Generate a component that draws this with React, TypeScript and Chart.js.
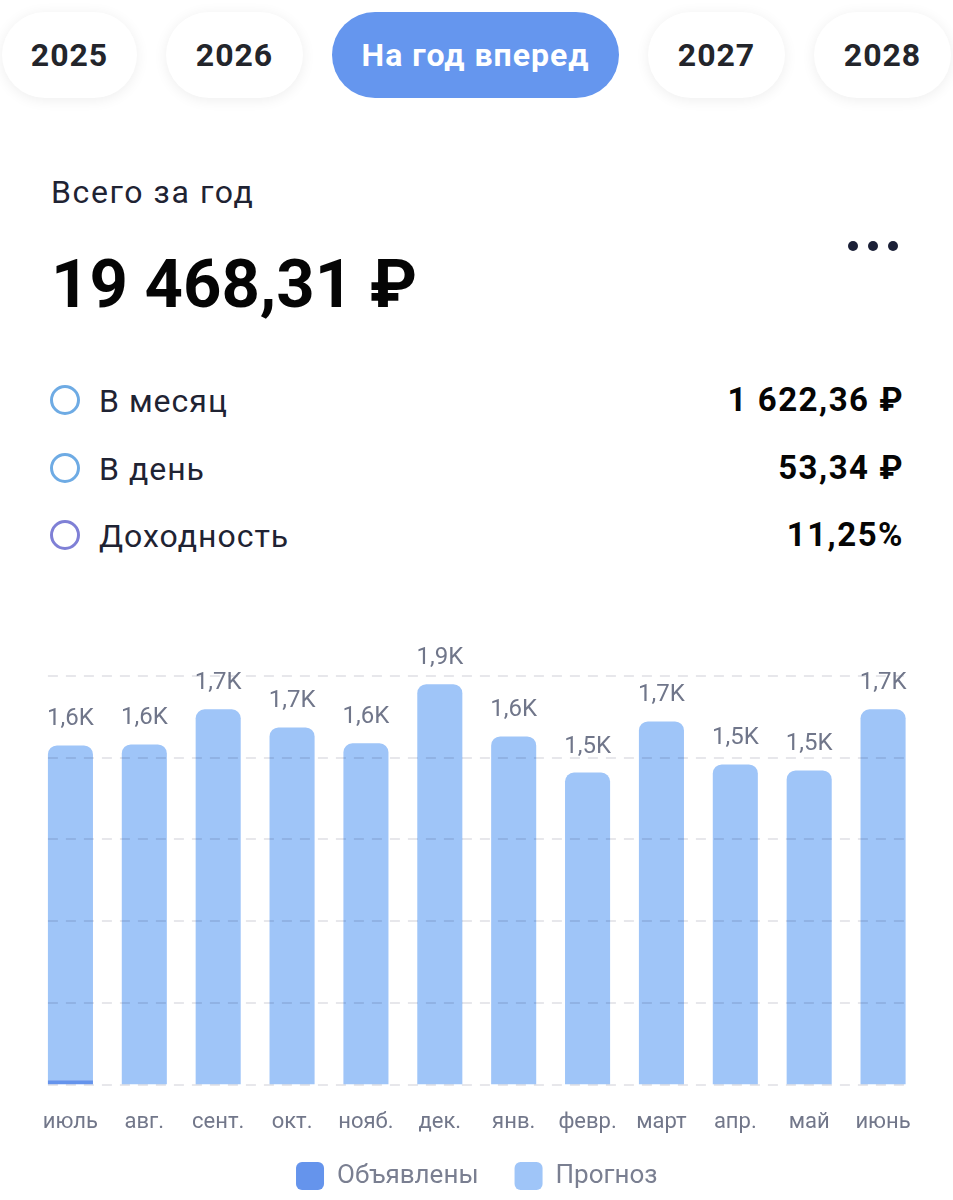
import React, { useEffect, useRef } from "react";
import { Chart, registerables } from "chart.js";

Chart.register(...registerables);

const tabs = ["2025", "2026", "На год вперед", "2027", "2028"];
const activeTab = "На год вперед";
const tabWidths = [135, 137, 287, 137, 137];

const totalTitle = "Всего за год";
const totalValue = "19 468,31 ₽";

const statLabels = ["В месяц", "В день", "Доходность"];
const statValues = ["1 622,36 ₽", "53,34 ₽", "11,25%"];
const statColors = ["#6EABE4", "#6EABE4", "#7F80D6"];

const months = ["июль", "авг.", "сент.", "окт.", "нояб.", "дек.", "янв.", "февр.", "март", "апр.", "май", "июнь"];
const declared = [20, 0, 0, 0, 0, 0, 0, 0, 0, 0, 0, 0];
const forecast = [1557, 1582, 1745, 1661, 1587, 1862, 1619, 1451, 1689, 1489, 1461, 1745];
const gridValues = [0, 380, 760, 1140, 1520, 1900];

const FONT = "Roboto, 'Noto Sans', sans-serif";
const LEGEND_SHIFT = 27;

function formatK(v: number) {
  return (v / 1000).toFixed(1).replace(".", ",") + "K";
}

const overlayPlugin = {
  id: "overlay",
  beforeLayout(chart: any) {
    const lg = chart.legend;
    if (lg && !lg._compact) {
      const orig = lg.fit;
      lg.fit = function () {
        orig.call(this);
        this.height -= LEGEND_SHIFT;
      };
      lg._compact = true;
    }
  },
  afterLayout(chart: any) {
    const lg = chart.legend;
    if (lg) {
      lg.top -= LEGEND_SHIFT;
    }
  },
  afterDatasetsDraw(chart: any) {
    const ctx = chart.ctx;
    const y = chart.scales.y;
    const bars = chart.getDatasetMeta(1).data;
    const first = bars[0];
    const last = bars[bars.length - 1];
    const left = first.x - first.width / 2;
    const right = last.x + last.width / 2;
    ctx.save();
    ctx.strokeStyle = "rgba(20,20,60,0.10)";
    ctx.lineWidth = 2;
    ctx.setLineDash([10, 8]);
    gridValues.forEach((v) => {
      const py = Math.round(y.getPixelForValue(v));
      ctx.beginPath();
      ctx.moveTo(left, py);
      ctx.lineTo(right, py);
      ctx.stroke();
    });
    ctx.setLineDash([]);
    ctx.fillStyle = "#70768A";
    ctx.font = `24px ${FONT}`;
    ctx.textAlign = "center";
    ctx.textBaseline = "middle";
    bars.forEach((bar: any, i: number) => {
      const total = declared[i] + forecast[i];
      ctx.fillText(formatK(total), bar.x, bar.y - 26);
    });
    ctx.restore();
  },
};

function BarChart() {
  const ref = useRef<HTMLCanvasElement | null>(null);
  useEffect(() => {
    if (!ref.current) return;
    const chart = new Chart(ref.current, {
      type: "bar",
      data: {
        labels: months,
        datasets: [
          {
            label: "Объявлены",
            data: declared,
            backgroundColor: "#6594EC",
            borderRadius: 0,
            barPercentage: 0.61,
            categoryPercentage: 1,
          },
          {
            label: "Прогноз",
            data: forecast,
            backgroundColor: "#9FC5F8",
            borderRadius: { topLeft: 9, topRight: 9, bottomLeft: 0, bottomRight: 0 },
            borderSkipped: false,
            barPercentage: 0.61,
            categoryPercentage: 1,
          },
        ],
      },
      options: {
        animation: false,
        responsive: false,
        maintainAspectRatio: false,
        layout: { padding: { left: 33.5, right: 33, top: 56, bottom: 0 } },
        scales: {
          x: {
            stacked: true,
            grid: { display: false },
            border: { display: false },
            ticks: {
              color: "#72778A",
              font: { family: FONT, size: 22 },
              padding: 17,
              maxRotation: 0,
              autoSkip: false,
            },
          },
          y: {
            stacked: true,
            display: false,
            min: 0,
            max: 1900,
          },
        },
        plugins: {
          legend: {
            position: "bottom",
            labels: {
              boxWidth: 28,
              boxHeight: 28,
              useBorderRadius: true,
              borderRadius: 6,
              color: "#7A7F91",
              font: { family: FONT, size: 26 },
              padding: 36,
            },
          },
          tooltip: { enabled: false },
        },
      },
      plugins: [overlayPlugin],
    });
    return () => chart.destroy();
  }, []);
  return (
    <canvas
      ref={ref}
      width={953}
      height={580}
      style={{ position: "absolute", left: 0, top: 620, width: 953, height: 580 }}
    />
  );
}

export default function App() {
  let x = 2;
  const tabEls = tabs.map((t, i) => {
    const left = x;
    x += tabWidths[i] + 29;
    const active = t === activeTab;
    return (
      <div
        key={t}
        style={{
          position: "absolute",
          left,
          top: 12,
          width: tabWidths[i],
          height: 86,
          borderRadius: 43,
          background: active ? "#6596EE" : "#FFFFFF",
          boxShadow: active ? "none" : "0 2px 14px rgba(0,0,0,0.07)",
          display: "flex",
          alignItems: "center",
          justifyContent: "center",
          fontWeight: 700,
          fontSize: 32,
          letterSpacing: 1,
          color: active ? "#FFFFFF" : "#23252B",
        }}
      >
        {t}
      </div>
    );
  });

  return (
    <div
      style={{
        position: "absolute",
        left: 0,
        top: 0,
        width: 953,
        height: 1200,
        background: "#FFFFFF",
        fontFamily: FONT,
        overflow: "hidden",
      }}
    >
      {tabEls}
      <div
        style={{
          position: "absolute",
          left: 51,
          top: 172,
          fontSize: 32,
          letterSpacing: 1.6,
          color: "#1F2333",
          lineHeight: "40px",
          whiteSpace: "nowrap",
        }}
      >
        {totalTitle}
      </div>
      <div
        style={{
          position: "absolute",
          left: 51,
          top: 241,
          fontSize: 67,
          fontWeight: 700,
          color: "#050505",
          lineHeight: "86px",
          whiteSpace: "nowrap",
        }}
      >
        {totalValue}
      </div>
      {[0, 1, 2].map((k) => (
        <div
          key={k}
          style={{ position: "absolute", left: 848 + k * 20, top: 241, width: 10, height: 10, borderRadius: 5, background: "#1B2037" }}
        />
      ))}
      {statLabels.map((lab, i) => {
        const cy = 400 + i * 67.5;
        return (
          <React.Fragment key={lab}>
            <div
              style={{
                position: "absolute",
                left: 50,
                top: cy - 15,
                width: 24,
                height: 24,
                borderRadius: "50%",
                border: `3px solid ${statColors[i]}`,
              }}
            />
            <div
              style={{
                position: "absolute",
                left: 99,
                top: cy - 19,
                fontSize: 32,
                letterSpacing: 1,
                color: "#1F2333",
                lineHeight: "40px",
                whiteSpace: "nowrap",
              }}
            >
              {lab}
            </div>
            <div
              style={{
                position: "absolute",
                right: 49,
                top: cy - 20,
                fontSize: 33,
                letterSpacing: 1.5,
                fontWeight: 700,
                color: "#050505",
                lineHeight: "40px",
                textAlign: "right",
                whiteSpace: "nowrap",
              }}
            >
              {statValues[i]}
            </div>
          </React.Fragment>
        );
      })}
      <BarChart />
    </div>
  );
}
